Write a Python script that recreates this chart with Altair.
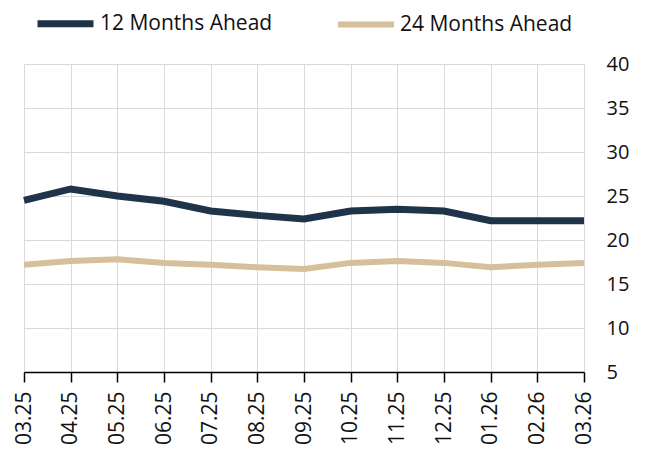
import altair as alt
import pandas as pd

months = ["03.25", "04.25", "05.25", "06.25", "07.25", "08.25", "09.25",
          "10.25", "11.25", "12.25", "01.26", "02.26", "03.26"]
ahead_12 = [24.5, 25.8, 25.0, 24.4, 23.3, 22.8, 22.4, 23.3, 23.5, 23.3, 22.2, 22.2, 22.2]
ahead_24 = [17.2, 17.6, 17.8, 17.4, 17.2, 16.9, 16.7, 17.4, 17.6, 17.4, 16.9, 17.2, 17.4]
series = ["12 Months Ahead", "24 Months Ahead"]
colors = ["#1f3449", "#d6bf9a"]

rows = []
for s, vals in zip(series, [ahead_12, ahead_24]):
    for m, v in zip(months, vals):
        rows.append({"month": m, "value": v, "series": s})
df = pd.DataFrame(rows)

FONT = "Open Sans"

chart = alt.Chart(df).mark_line(strokeCap="butt", strokeJoin="miter").encode(
    x=alt.X("month:N", sort=months, title=None,
            scale=alt.Scale(type="point", padding=0),
            axis=alt.Axis(labelAngle=-90, labelFontSize=21, labelFont=FONT, labelColor="#111",
                          domainColor="#000", domainWidth=1.5, tickColor="#000", tickSize=10,
                          tickWidth=1.5, labelPadding=9, grid=True, gridColor="#d9d9d9",
                          gridWidth=1, labelAlign="right", labelBaseline="middle")),
    y=alt.Y("value:Q", title=None,
            scale=alt.Scale(domain=[5, 40], nice=False, zero=False),
            axis=alt.Axis(orient="right", values=[5, 10, 15, 20, 25, 30, 35, 40],
                          labelFontSize=20, labelFont=FONT, labelColor="#111",
                          domain=False, ticks=False, labelPadding=22,
                          gridColor="#d9d9d9", gridWidth=1)),
    color=alt.Color("series:N", scale=alt.Scale(domain=series, range=colors), title=None,
                    legend=alt.Legend(orient="none", direction="horizontal",
                                      legendX=10, legendY=-72,
                                      symbolType="stroke", symbolSize=3136,
                                      symbolStrokeWidth=7, labelFontSize=21,
                                      labelFont=FONT, labelColor="#111", labelLimit=400,
                                      labelOffset=3, columnPadding=53)),
    strokeWidth=alt.StrokeWidth("series:N", scale=alt.Scale(domain=series, range=[7, 6]),
                                legend=None),
).properties(
    width=560, height=308,
    autosize=alt.AutoSizeParams(type="none"),
    padding={"left": 16, "top": 56, "right": 50, "bottom": 75},
).configure_view(stroke=None)

chart.save("out.html", embed_options={"renderer": "svg", "actions": False})
